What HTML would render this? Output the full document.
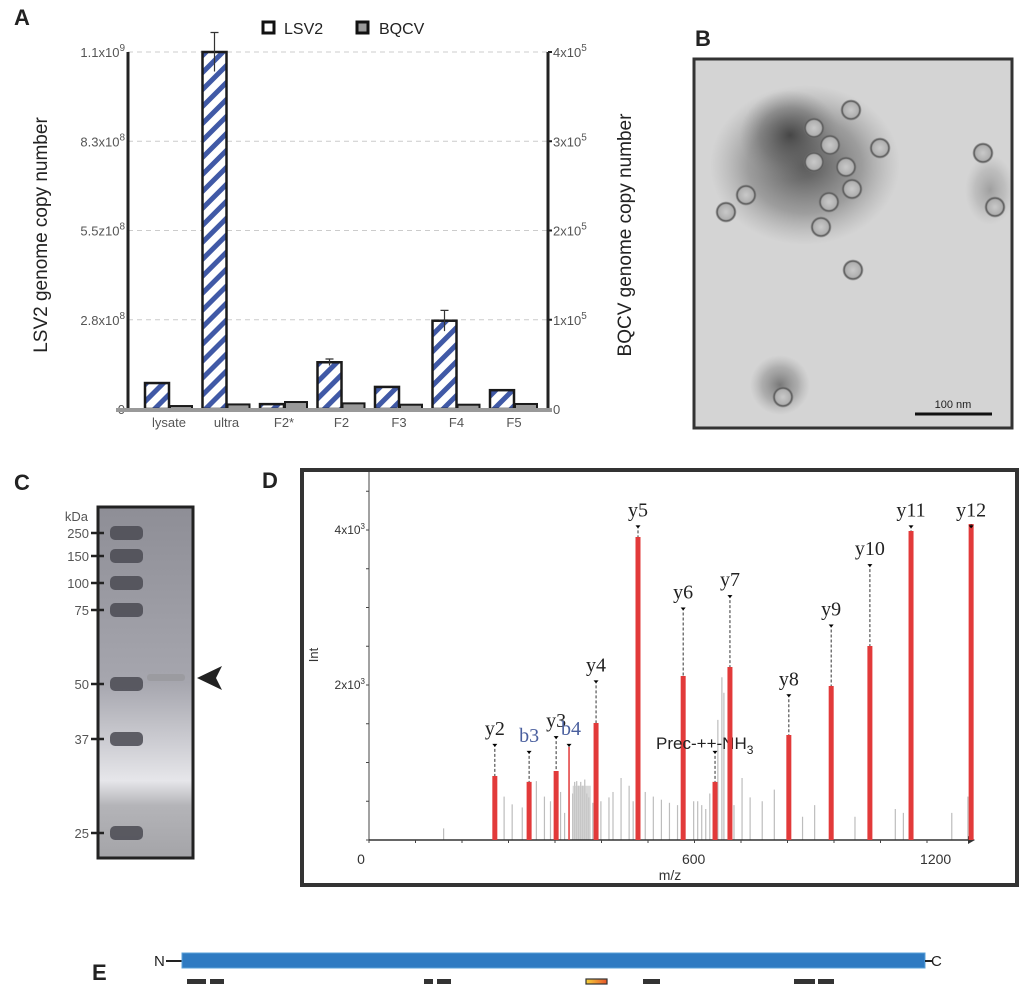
<!DOCTYPE html>
<html><head><meta charset="utf-8"><style>
html,body{margin:0;padding:0;background:#fff;}
svg{display:block;font-family:"Liberation Sans",sans-serif;}
</style></head><body>
<svg id="fig" width="1024" height="992" viewBox="0 0 1024 992" xmlns="http://www.w3.org/2000/svg">
<defs>
<pattern id="stripe" patternUnits="userSpaceOnUse" width="12" height="12" patternTransform="rotate(45)">
<rect width="12" height="12" fill="#fff"/><rect width="5" height="12" fill="#4059a6"/>
</pattern>
<radialGradient id="blob" cx="0.5" cy="0.5" r="0.5">
<stop offset="0" stop-color="#3a3a3a" stop-opacity="0.85"/><stop offset="0.6" stop-color="#666" stop-opacity="0.5"/><stop offset="1" stop-color="#888" stop-opacity="0"/>
</radialGradient>
<radialGradient id="virion" cx="0.5" cy="0.5" r="0.5">
<stop offset="0" stop-color="#c9c9c9"/><stop offset="0.7" stop-color="#b0b0b0"/><stop offset="0.85" stop-color="#555"/><stop offset="1" stop-color="#777" stop-opacity="0.3"/>
</radialGradient>
<linearGradient id="gel" x1="0" y1="0" x2="0" y2="1">
<stop offset="0" stop-color="#8e8e96"/><stop offset="0.5" stop-color="#a6a6ae"/><stop offset="0.78" stop-color="#e6e6ea"/><stop offset="0.85" stop-color="#b4b4b8"/><stop offset="1" stop-color="#a4a4a8"/>
</linearGradient>
<linearGradient id="pep" x1="0" y1="0" x2="1" y2="0">
<stop offset="0" stop-color="#f5d23a"/><stop offset="1" stop-color="#e8552a"/>
</linearGradient>
</defs>

<!-- Panel labels -->
<text x="14" y="25" font-size="22" font-weight="bold" fill="#222">A</text>
<text x="695" y="46" font-size="22" font-weight="bold" fill="#222">B</text>
<text x="14" y="490" font-size="22" font-weight="bold" fill="#222">C</text>
<text x="262" y="488" font-size="22" font-weight="bold" fill="#222">D</text>
<text x="92" y="980" font-size="22" font-weight="bold" fill="#222">E</text>

<g id="chartA"></g>

<!-- Panel B TEM image -->
<g>
<rect x="694" y="59" width="318" height="369" fill="#d4d4d4"/>
<ellipse cx="805" cy="165" rx="95" ry="80" fill="url(#blob)"/>
<ellipse cx="790" cy="135" rx="50" ry="45" fill="url(#blob)"/>
<ellipse cx="780" cy="385" rx="30" ry="30" fill="url(#blob)" opacity="0.7"/>
<ellipse cx="990" cy="190" rx="25" ry="35" fill="url(#blob)" opacity="0.4"/>
<g id="virions"></g>
<rect x="694" y="59" width="318" height="369" fill="none" stroke="#333" stroke-width="3"/>
<line x1="915" y1="414" x2="992" y2="414" stroke="#111" stroke-width="3"/>
<text x="953" y="408" font-size="11" text-anchor="middle" fill="#222">100 nm</text>
</g>

<!-- Panel C gel -->
<g>
<rect x="98" y="507" width="95" height="351" fill="url(#gel)" stroke="#222" stroke-width="3"/>
<g id="gelBands"></g>
<rect x="147" y="674" width="38" height="7" rx="3" fill="#9a9a9e" opacity="0.9"/>
<polygon points="197,678 222,666 216,678 222,690" fill="#222"/>
<text x="88" y="521" font-size="13" text-anchor="end" fill="#555">kDa</text>
</g>

<!-- Panel D -->
<rect x="302" y="470" width="715" height="415" fill="#fff" stroke="#333" stroke-width="4"/>
<g id="chartD"></g>

<!-- Panel E -->
<g>
<text x="154" y="966" font-size="15" fill="#222">N</text>
<line x1="166" y1="961" x2="182" y2="961" stroke="#222" stroke-width="2"/>
<rect x="182" y="953" width="743" height="15" fill="#2f7bc2" stroke="#5aa0d8" stroke-width="1"/>
<line x1="925" y1="961" x2="932" y2="961" stroke="#222" stroke-width="2"/>
<text x="931" y="966" font-size="15" fill="#222">C</text>
<g id="peptides"></g>
</g>

<script>
var NS="http://www.w3.org/2000/svg";
function mk(tag,attrs,parent){var e=document.createElementNS(NS,tag);for(var k in attrs)e.setAttribute(k,attrs[k]);if(parent)parent.appendChild(e);return e;}

/* ---------- Panel A data ---------- */
var aCategories=["lysate","ultra","F2*","F2","F3","F4","F5"];
var aLsv2=[8.0e7,1.1e9,1.5e7,1.44e8,6.8e7,2.72e8,5.8e7];
var aLsv2Err=[0,6e7,0,1.0e7,0,3.2e7,0];
var aBqcv=[2200,4000,6700,5200,3700,3700,4500];
var aLeftTicks=[0,2.75e8,5.5e8,8.25e8,1.1e9];
var aLeftTickLabels=["0","2.8x10|8","5.5z10|8","8.3x10|8","1.1x10|9"];
var aRightTicks=[0,1e5,2e5,3e5,4e5];
var aRightTickLabels=["0","1x10|5","2x10|5","3x10|5","4x10|5"];

(function(){
var g=document.getElementById('chartA');
var L=128,R=548,T=52,B=409;
function yl(v){return B-v/1.1e9*(B-T);}
function yr(v){return B-v/4e5*(B-T);}
function xc(i){return 145+i*57.5;}
function supText(x,y,s,anchor,parent){
  var p=s.split('|');var t=mk('text',{x:x,y:y,'font-size':13,fill:'#555','text-anchor':anchor},parent);
  t.appendChild(document.createTextNode(p[0]));
  if(p[1]){var ts=mk('tspan',{dy:-6,'font-size':10},t);ts.textContent=p[1];}
  return t;}
aLeftTicks.forEach(function(v,i){
  var y=yl(v);
  if(i>0){var gl=mk('line',{x1:L,x2:R,y1:y,y2:y,stroke:'#ccc','stroke-dasharray':'5,4','stroke-width':1},g);
  
  }
  var t=supText(L-3,y+5,aLeftTickLabels[i],'end',g);
  
  
});
aRightTicks.forEach(function(v,i){
  var y=yr(v);
  mk('line',{x1:R,x2:R+4,y1:y,y2:y,stroke:'#222','stroke-width':2},g);
  var t=supText(R+5,y+5,aRightTickLabels[i],'start',g);
  
  
});
var ax=mk('line',{x1:L,x2:L,y1:T,y2:B,stroke:'#222','stroke-width':3},g);


var ax2=mk('line',{x1:R,x2:R,y1:T,y2:B,stroke:'#222','stroke-width':3},g);


aCategories.forEach(function(c,i){
  var x=xc(i);
  var y1=yl(aLsv2[i]);
  var b=mk('rect',{x:x,y:y1,width:24,height:B-y1,fill:'url(#stripe)',stroke:'#1a1a1a','stroke-width':2.5},g);
  
  
  if(aLsv2Err[i]>0){
    var ye=yl(aLsv2[i]+aLsv2Err[i]),yd=yl(aLsv2[i]-aLsv2Err[i]);
    var e=mk('path',{d:'M'+(x+12)+','+yd+'V'+ye+'M'+(x+8)+','+ye+'H'+(x+16),stroke:'#333','stroke-width':1.2,fill:'none'},g);
    
    
  }
  var y2=yr(aBqcv[i]);
  var b2=mk('rect',{x:x+25,y:y2-1,width:22,height:B-y2+1,fill:'#999',stroke:'#1a1a1a','stroke-width':2},g);
  
  
  var t=mk('text',{x:x+24,y:B+18,'font-size':13,fill:'#555','text-anchor':'middle'},g);t.textContent=c;
  
  
});
var bl=mk('line',{x1:116,x2:552,y1:B+1,y2:B+1,stroke:'#999','stroke-width':4},g);


var t1=mk('text',{x:0,y:0,'font-size':19,fill:'#222','text-anchor':'middle',transform:'translate(47,235) rotate(-90)'},g);t1.textContent='LSV2 genome copy number';


var t2=mk('text',{x:0,y:0,'font-size':19,fill:'#222','text-anchor':'middle',transform:'translate(631,235) rotate(-90)'},g);t2.textContent='BQCV genome copy number';


var lg1=mk('rect',{x:263,y:22,width:11,height:11,fill:'#fff',stroke:'#111','stroke-width':3},g);


var lt1=mk('text',{x:284,y:34,'font-size':16,fill:'#222'},g);lt1.textContent='LSV2';


var lg2=mk('rect',{x:357,y:22,width:11,height:11,fill:'#999',stroke:'#111','stroke-width':3},g);


var lt2=mk('text',{x:379,y:34,'font-size':16,fill:'#222'},g);lt2.textContent='BQCV';


})();

/* ---------- Panel B virions ---------- */
var bVirionX=[851,814,830,880,814,846,852,829,746,726,821,983,995,853,783];
var bVirionY=[110,128,145,148,162,167,189,202,195,212,227,153,207,270,397];
(function(){
var g=document.getElementById('virions');
bVirionX.forEach(function(x,i){
  var c=mk('circle',{cx:x,cy:bVirionY[i],r:10.5,fill:'url(#virion)'},g);
  
  
});
})();

/* ---------- Panel C gel ---------- */
var cMarkers=[250,150,100,75,50,37,25];
var cMarkerY=[533,556,583,610,684,739,833];
(function(){
var g=document.getElementById('gelBands');
var svg=document.getElementById('fig');
cMarkers.forEach(function(m,i){
  var y=cMarkerY[i];
  var b=mk('rect',{x:110,y:y-7,width:33,height:14,rx:5,fill:'#4a4a52',opacity:0.85},g);
  
  
  var tk=mk('line',{x1:91,x2:104,y1:y,y2:y,stroke:'#222','stroke-width':2.5},svg);
  
  
  var t=mk('text',{x:89,y:y+5,'font-size':13,'text-anchor':'end',fill:'#555'},svg);t.textContent=String(m);
  
  
});
})();

/* ---------- Panel D data ---------- */
var dLabels=["y2","b3","y3","b4","y4","y5","y6","Prec","y7","y8","y9","y10","y11","y12"];
var dMz=[107,192,259,291,358,462,574,653,690,836,941,1037,1139,1288];
var dInt=[826,750,890,1200,1510,3910,2116,750,2232,1355,1987,2503,3987,4077];
var dLabelTop=[1240,1150,1340,1240,2060,4060,3000,1150,3160,1880,2780,3560,4060,4060];
var dGreyMz=[-20,130,150,175,210,230,245,270,280,300,305,310,315,320,325,330,335,340,350,370,390,400,420,440,450,480,500,520,540,560,600,610,620,630,640,660,670,675,700,720,740,770,800,870,900,1000,1100,1120,1240,1280];
var dGreyInt=[150,560,460,420,760,560,500,620,350,600,750,760,700,750,700,780,600,550,480,500,550,620,800,700,500,620,560,520,480,450,500,500,450,400,600,1550,2100,1900,450,800,550,500,650,300,450,300,400,350,350,560];
var dYTicks=[2000,4000];
var dYTickLabels=["2x10|3","4x10|3"];
var dXTicks=[-205,600,1200];
var dXTickLabels=["0","600","1200"];
(function(){
var g=document.getElementById('chartD');
var X0=369,Y0=840;
function x(v){return X0+(v+205)*0.4033;}
function y(v){return Y0-v/2000*155;}
dGreyMz.forEach(function(m,i){
  var l=mk('line',{x1:x(m),x2:x(m),y1:Y0,y2:y(dGreyInt[i]),stroke:'#bdbdbd','stroke-width':1.2},g);
  
  
});
mk('rect',{x:x(300),y:y(700),width:x(345)-x(300),height:Y0-y(700),fill:'#c8c8c8',opacity:0.7},g);
var ya=mk('line',{x1:X0,x2:X0,y1:472,y2:Y0,stroke:'#444','stroke-width':1},g);


for(var v=0;v<=4500;v+=500){mk('line',{x1:X0-3,x2:X0,y1:y(v),y2:y(v),stroke:'#444','stroke-width':1},g);}
dYTicks.forEach(function(v,i){
  var p=dYTickLabels[i].split('|');
  var t=mk('text',{x:X0-4,y:y(v)+4,'font-size':12,'text-anchor':'end',fill:'#333'},g);
  t.appendChild(document.createTextNode(p[0]));
  var s=mk('tspan',{dy:-5,'font-size':8},t);s.textContent=p[1];
  
  
});
var xa=mk('line',{x1:X0,x2:973,y1:Y0,y2:Y0,stroke:'#333','stroke-width':1.5},g);


mk('polygon',{points:'975,840 968,836 968,844',fill:'#333'},g);
for(var k=0;k<13;k++){var tx=X0+k*46.5;mk('line',{x1:tx,x2:tx,y1:Y0,y2:Y0+3,stroke:'#444','stroke-width':1},g);}
dXTicks.forEach(function(v,i){
  var t=mk('text',{x:x(v)-(i==0?8:0),y:Y0+24,'font-size':14,'text-anchor':'middle',fill:'#333'},g);t.textContent=dXTickLabels[i];
  
  
});
var xt=mk('text',{x:670,y:880,'font-size':14,'text-anchor':'middle',fill:'#333'},g);xt.textContent='m/z';


var yt=mk('text',{x:0,y:0,'font-size':13,'text-anchor':'middle',fill:'#333',transform:'translate(318,655) rotate(-90)'},g);yt.textContent='Int';


dLabels.forEach(function(lab,i){
  var px=x(dMz[i]),top=y(dLabelTop[i]);
  var thin=(lab==='b4');
  var bar=mk('line',{x1:px,x2:px,y1:Y0,y2:y(dInt[i]),stroke:'#e23a3a','stroke-width':thin?1.5:5},g);
  
  
  mk('line',{x1:px,x2:px,y1:top,y2:y(dInt[i]),stroke:'#333','stroke-width':1,'stroke-dasharray':'3,2'},g);
  mk('polygon',{points:(px-2.5)+','+top+' '+(px+2.5)+','+top+' '+px+','+(top+3)},g);
  var t;
  if(lab==='Prec'){
    t=mk('text',{x:px-59,y:top-2,'font-size':17,fill:'#222'},g);
    t.appendChild(document.createTextNode('Prec-++-NH'));
    var s=mk('tspan',{dy:5,'font-size':12},t);s.textContent='3';
  } else {
    var blue=lab.charAt(0)==='b';
    t=mk('text',{x:px+(lab==='b4'?2:0),y:top-9,'font-size':20,'text-anchor':'middle',fill:blue?'#4a5f9e':'#222','font-family':'Liberation Serif, serif'},g);
    t.textContent=lab;
  }
  
  
});
})();

/* ---------- Panel E peptides ---------- */
var ePepStart=[187,210,424,437,586,643,794,818];
var ePepEnd=[206,224,433,451,607,660,815,834];
(function(){
var g=document.getElementById('peptides');
ePepStart.forEach(function(s,i){
  var hi=(s===586);
  var r=mk('rect',{x:s,y:979,width:ePepEnd[i]-s,height:5,fill:hi?'url(#pep)':'#333',stroke:'#333','stroke-width':hi?1.2:0},g);
  
  
});
})();
</script>
</svg>
</body></html>
